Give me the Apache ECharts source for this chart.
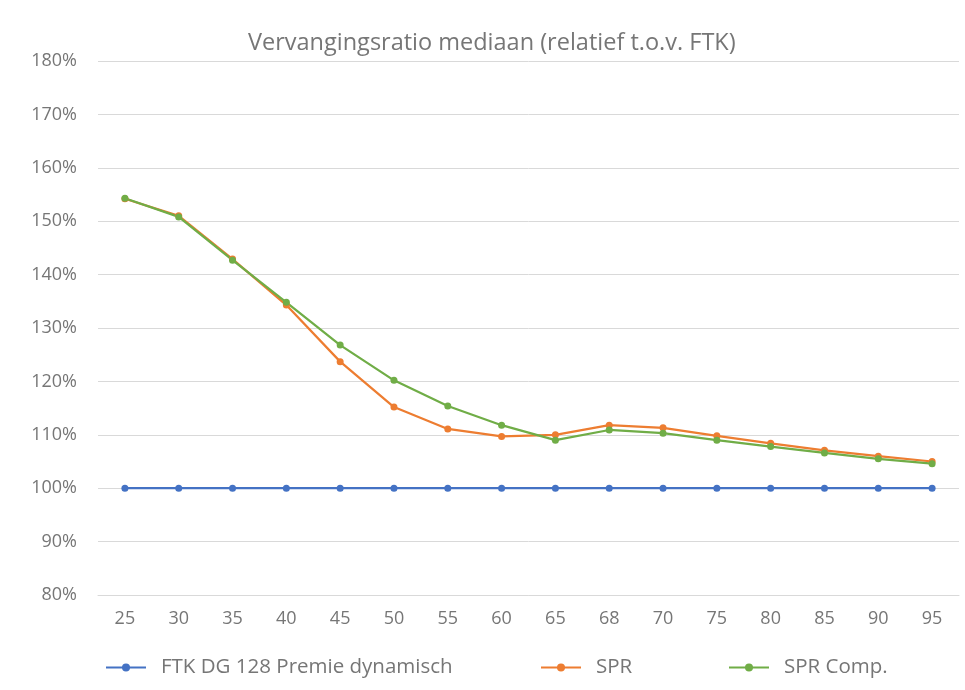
<!DOCTYPE html>
<html>
<head>
<meta charset="utf-8">
<script src="https://cdn.jsdelivr.net/npm/echarts@6/dist/echarts.min.js"></script>
<style>
  html, body { margin: 0; padding: 0; background: #fff; }
  #chart { width: 965px; height: 690px; }
</style>
</head>
<body>
<div id="chart"></div>
<script>
// leeftijden op de x-as
const ages = ['25', '30', '35', '40', '45', '50', '55', '60', '65', '68', '70', '75', '80', '85', '90', '95'];
// waarden in procenten
const ftk = [100, 100, 100, 100, 100, 100, 100, 100, 100, 100, 100, 100, 100, 100, 100, 100];
const spr = [154.2, 151.0, 142.9, 134.3, 123.7, 115.2, 111.1, 109.7, 110.0, 111.8, 111.3, 109.8, 108.4, 107.1, 106.0, 105.0];
const sprComp = [154.3, 150.8, 142.7, 134.8, 126.8, 120.2, 115.4, 111.8, 109.0, 110.9, 110.3, 109.0, 107.8, 106.6, 105.5, 104.6];
const yTicks = [80, 180, 10]; // min, max, stap

const font = '"Open Sans", "DejaVu Sans", sans-serif';
const grey = '#767676';

const chart = echarts.init(document.getElementById('chart'));

function line(name, data, color) {
  return {
    name: name,
    type: 'line',
    data: data,
    symbol: 'circle',
    symbolSize: 7,
    lineStyle: { width: 2.25, color: color },
    itemStyle: { color: color },
    animation: false
  };
}

function legend(name, left) {
  return {
    data: [name],
    left: left,
    top: 657,
    itemWidth: 40,
    itemHeight: 10,
    padding: 0,
    textStyle: { color: grey, fontSize: 20.5, fontFamily: font, padding: [0, 0, 0, 10] }
  };
}

const option = {
  title: {
    text: 'Vervangingsratio mediaan (relatief t.o.v. FTK)',
    left: 243,
    top: 26,
    textStyle: { color: grey, fontSize: 23.5, fontWeight: 'normal', fontFamily: font }
  },
  legend: [
    legend('FTK DG 128 Premie dynamisch', 105),
    legend('SPR', 540),
    legend('SPR Comp.', 728)
  ],
  grid: { left: 98, right: 6, top: 61, bottom: 95, containLabel: false },
  xAxis: {
    type: 'category',
    data: ages,
    boundaryGap: true,
    axisLine: { lineStyle: { color: '#d9d9d9' } },
    axisTick: { show: false },
    axisLabel: { color: grey, fontSize: 18, fontFamily: font, margin: 15 }
  },
  yAxis: {
    type: 'value',
    min: yTicks[0],
    max: yTicks[1],
    interval: yTicks[2],
    axisLine: { show: false },
    axisTick: { show: false },
    splitLine: { lineStyle: { color: '#d9d9d9', width: 1 } },
    axisLabel: { color: grey, fontSize: 18, fontFamily: font, margin: 21, formatter: '{value}%' }
  },
  series: [
    line('FTK DG 128 Premie dynamisch', ftk, '#4472c4'),
    line('SPR', spr, '#ed7d31'),
    line('SPR Comp.', sprComp, '#70ad47')
  ]
};

option && chart.setOption(option);
</script>
</body>
</html>
